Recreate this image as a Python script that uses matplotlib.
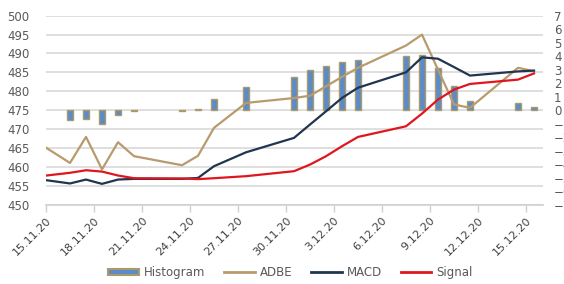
import matplotlib
matplotlib.use('Agg')
import matplotlib.pyplot as plt
import matplotlib.dates as mdates
from matplotlib.patches import Patch
import pandas as pd

plt.rcParams['font.family'] = ['DejaVu Sans']

# trading days (13.11 sits left of the axis and is clipped, like in the original)
dates = ['2020-11-13', '2020-11-16', '2020-11-17', '2020-11-18', '2020-11-19', '2020-11-20',
         '2020-11-23', '2020-11-24', '2020-11-25', '2020-11-27', '2020-11-30', '2020-12-01',
         '2020-12-02', '2020-12-03', '2020-12-04', '2020-12-07', '2020-12-08', '2020-12-09',
         '2020-12-10', '2020-12-11', '2020-12-14', '2020-12-15']

adbe = [469.1, 461.0, 467.9, 459.3, 466.5, 462.8, 460.4, 462.9, 470.3, 476.9, 478.2, 478.8,
        481.3, 483.8, 486.2, 492.1, 495.0, 485.7, 476.5, 475.6, 486.2, 485.3]

macd = [-4.95, -5.44, -5.15, -5.47, -5.15, -5.10, -5.10, -5.03, -4.16, -3.13, -2.06, -1.07,
        -0.09, 0.90, 1.66, 2.80, 3.91, 3.81, 3.19, 2.56, 2.87, 2.93]

signal = [-5.06, -4.65, -4.46, -4.56, -4.85, -5.05, -5.07, -5.12, -5.05, -4.90, -4.53, -4.04,
          -3.42, -2.68, -1.99, -1.20, -0.26, 0.78, 1.52, 1.94, 2.26, 2.72]

histogram = [0.11, -0.76, -0.65, -1.00, -0.40, -0.08, -0.06, 0.10, 0.80, 1.70, 2.45, 2.95,
             3.30, 3.57, 3.69, 3.99, 4.10, 3.12, 1.76, 0.65, 0.50, 0.24]

tick_dates = pd.date_range('2020-11-15', '2020-12-15', freq='3D')

c_bar = '#5B8CC8'
c_edge = '#A99A6C'
c_adbe = '#B99A6E'
c_macd = '#1F3550'
c_sig = '#E0161E'
c_txt = '#595959'

x = pd.to_datetime(dates) + pd.Timedelta(hours=12)

fig = plt.figure(figsize=(5.64, 2.84), dpi=100)
ax = fig.add_axes([46 / 564, 1 - 204.5 / 284, (543 - 46) / 564, (204.5 - 15.7) / 284])
ax2 = ax.twinx()
ax2.set_ylim(-7, 7)

# everything is drawn on ax so gridlines stay underneath; right-axis series use ax2's scale
tr = ax2.transData
ax.bar(x, histogram, width=0.38, color=c_bar, edgecolor=c_edge, linewidth=1.0,
       transform=tr, zorder=2)
ax.plot(x, adbe, color=c_adbe, lw=1.6, zorder=3)
ax.plot(x, macd, color=c_macd, lw=1.6, transform=tr, zorder=4)
ax.plot(x, signal, color=c_sig, lw=1.6, transform=tr, zorder=5)

ax.set_ylim(450, 500)
ax.set_yticks(range(450, 501, 5))
ax.set_xlim(pd.Timestamp('2020-11-15'), pd.Timestamp('2020-12-16 01:30'))
ax.set_xticks(tick_dates)
ax.set_xticklabels([f'{d.day}.{d.month}.{d:%y}' for d in tick_dates],
                   rotation=45, ha='right', rotation_mode='anchor')

ax2.set_yticks(range(-7, 8))
ax.grid(axis='y', color='#D9D9D9', lw=1.2, zorder=0)
ax.set_axisbelow(True)

for a in (ax, ax2):
    for s in ('top', 'left', 'right'):
        a.spines[s].set_visible(False)
ax2.spines['bottom'].set_visible(False)
ax.spines['bottom'].set_color('#D0D0D0')
ax.spines['bottom'].set_linewidth(1.2)

ax.tick_params(axis='y', length=0, pad=12, labelsize=8.5, labelcolor=c_txt)
ax.tick_params(axis='x', length=5, color='#D0D0D0', width=1, pad=3, labelsize=8, labelcolor='#404040')
ax2.tick_params(axis='y', length=0, pad=8, labelsize=8.5, labelcolor=c_txt)

handles = [Patch(facecolor=c_bar, edgecolor=c_edge, linewidth=1.5),
           plt.Line2D([], [], color=c_adbe, lw=2),
           plt.Line2D([], [], color=c_macd, lw=2),
           plt.Line2D([], [], color=c_sig, lw=2)]
fig.legend(handles, ['Histogram', 'ADBE', 'MACD', 'Signal'], loc='center',
           bbox_to_anchor=(0.515, 0.04), ncol=4, frameon=False, fontsize=8.5,
           handlelength=2.6, handleheight=0.5, handletextpad=0.4, columnspacing=1.6,
           labelcolor=c_txt)

fig.savefig('out.png', dpi=100)
